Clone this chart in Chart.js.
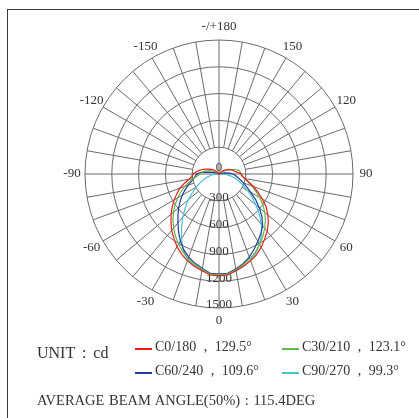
<!DOCTYPE html>
<html>
<head>
<meta charset="utf-8">
<script src="https://cdn.jsdelivr.net/npm/chart.js@4"></script>
<style>
  body { margin: 0; background: #fff; }
  #wrap { position: relative; width: 419px; height: 418px; overflow: hidden; font-family: "Liberation Serif", serif; color: #333; }
  #chartBox { position: absolute; left: 0; top: 0; width: 419px; height: 418px; }
  .frame { position: absolute; left: 7px; top: 9px; width: 500px; height: 500px; border-left: 1.5px solid #3a3a3a; border-top: 1.5px solid #3a3a3a; }
  .txt { position: absolute; white-space: pre; }
  .sw { position: absolute; width: 17px; height: 1.5px; }
</style>
</head>
<body>
<div id="wrap">
  <div class="frame"></div>
  <div id="chartBox"><canvas id="myChart"></canvas></div>
  <div id="bottom"></div>
</div>
<script>
const gamma = [0, 5, 10, 15, 20, 25, 30, 35, 40, 45, 50, 55, 60, 65, 70, 75, 80, 85, 90,
  95, 100, 105, 110, 115, 120, 125, 130, 135, 140, 145, 150, 155, 160, 165, 170, 175, 180];

// intensity (cd) per gamma angle, right half / left half of each C plane pair
const c0 = [1140, 1135, 1100, 1065, 1035, 995, 945, 890, 840, 780, 715, 645, 560, 480, 410, 345, 295, 260, 250,
  210, 175, 160, 140, 120, 95, 75, 55, 35, 20, 10, 5, 0, 0, 0, 0, 0, 0];
const c180 = [1140, 1135, 1100, 1070, 1035, 990, 940, 880, 825, 760, 700, 640, 580, 520, 470, 400, 340, 305, 290,
  260, 225, 195, 160, 130, 105, 85, 65, 45, 28, 15, 5, 0, 0, 0, 0, 0, 0];
const c30 = [1130, 1125, 1090, 1050, 1010, 965, 910, 855, 795, 735, 670, 600, 525, 455, 390, 335, 290, 260, 245,
  240, 230, 190, 140, 100, 70, 45, 25, 12, 5, 0, 0, 0, 0, 0, 0, 0, 0];
const c210 = [1130, 1125, 1085, 1050, 1010, 960, 905, 850, 790, 730, 665, 600, 535, 470, 410, 350, 290, 245, 215,
  195, 170, 140, 110, 80, 55, 35, 20, 10, 3, 0, 0, 0, 0, 0, 0, 0, 0];
const c60 = [1120, 1115, 1080, 1040, 990, 930, 870, 815, 760, 680, 590, 500, 410, 345, 290, 245, 210, 185, 160,
  120, 70, 40, 20, 10, 0, 0, 0, 0, 0, 0, 0, 0, 0, 0, 0, 0, 0];
const c240 = [1120, 1115, 1075, 1035, 990, 935, 865, 790, 715, 650, 590, 530, 475, 420, 370, 320, 285, 265, 250,
  200, 120, 70, 35, 15, 0, 0, 0, 0, 0, 0, 0, 0, 0, 0, 0, 0, 0];
const c90 = [1120, 1118, 1100, 1070, 1030, 975, 905, 830, 740, 640, 540, 450, 370, 300, 240, 185, 135, 90, 50,
  25, 10, 0, 0, 0, 0, 0, 0, 0, 0, 0, 0, 0, 0, 0, 0, 0, 0];
const c270 = [1120, 1118, 1100, 1065, 1020, 945, 840, 730, 630, 535, 450, 365, 295, 235, 180, 135, 95, 60, 35,
  15, 5, 0, 0, 0, 0, 0, 0, 0, 0, 0, 0, 0, 0, 0, 0, 0, 0];

const planeNames = ["C0/180", "C30/210", "C60/240", "C90/270"];
const beamAngles = ["129.5°", "123.1°", "109.6°", "99.3°"];
const planeColors = ["#ee1c1c", "#62b844", "#1f3c9c", "#46c4d6"];
const angleTicks = [0, 30, 60, 90, 120, 150, 180, -30, -60, -90, -120, -150];
const intensityTicks = [0, 300, 600, 900, 1200, 1500];

const gridColor = "#6a6a6a";

// dial order clockwise from the top: 180 .. 5 on the C0 side, then 0 .. -175 on the C180 side
const dial = [];
for (let i = gamma.length - 1; i > 0; i--) dial.push(gamma[i]);
for (let i = 0; i < gamma.length - 1; i++) dial.push(-gamma[i]);

function plane(right, left) {
  return dial.map((a) => (a > 0 ? right[gamma.indexOf(a)] : left[gamma.indexOf(-a)]));
}

const series = [plane(c0, c180), plane(c30, c210), plane(c60, c240), plane(c90, c270)];

const polarGrid = {
  id: "polarGrid",
  beforeDatasetsDraw(chart) {
    const r = chart.scales.r;
    const ctx = chart.ctx;
    const inner = r.getDistanceFromCenterForValue(300);
    const outer = r.getDistanceFromCenterForValue(1500);
    ctx.save();
    ctx.strokeStyle = gridColor;
    ctx.lineWidth = 1;
    dial.forEach((a, i) => {
      if (a % 10 !== 0) return;
      const from = r.getPointPosition(i, a % 90 === 0 ? 0 : inner);
      const to = r.getPointPosition(i, outer);
      ctx.beginPath();
      ctx.moveTo(from.x, from.y);
      ctx.lineTo(to.x, to.y);
      ctx.stroke();
    });

    ctx.fillStyle = "#333";
    ctx.font = '13px "Liberation Serif"';
    ctx.textAlign = "center";
    ctx.textBaseline = "middle";
    dial.forEach((a, i) => {
      if (!angleTicks.includes(a)) return;
      const p = r.getPointPosition(i, outer + 13);
      ctx.fillText(a === 180 ? "-/+180" : String(a), p.x, p.y);
    });
    intensityTicks.forEach((v) => {
      const d = r.getDistanceFromCenterForValue(v);
      ctx.fillText(String(v), r.xCenter, r.yCenter + d - (v === 0 ? 6 : 3));
    });
    ctx.restore();
  }
};

const myCanvas = document.getElementById("myChart");

new Chart(myCanvas, {
  type: "radar",
  data: {
    labels: dial.map(String),
    datasets: series.map((data, k) => ({
      label: planeNames[k],
      data: data,
      borderColor: planeColors[k],
      borderWidth: 1.2,
      pointRadius: 0,
      fill: false,
      tension: 0
    }))
  },
  options: {
    responsive: true,
    maintainAspectRatio: false,
    animation: false,
    layout: { padding: { left: 85, top: 40, right: 66, bottom: 110 } },
    plugins: { legend: { display: false }, tooltip: { enabled: false } },
    scales: {
      r: {
        min: 0,
        max: 1500,
        ticks: { stepSize: 300, display: false },
        grid: { circular: true, color: gridColor, lineWidth: 1 },
        angleLines: { display: false },
        pointLabels: { display: false }
      }
    }
  },
  plugins: [polarGrid]
});

// text block under the dial
const bottom = document.getElementById("bottom");
function addText(str, left, centerY, size, extra) {
  const d = document.createElement("div");
  d.className = "txt";
  d.textContent = str;
  d.style.left = left + "px";
  d.style.top = (centerY - size / 2) + "px";
  d.style.fontSize = size + "px";
  d.style.lineHeight = size + "px";
  if (extra) d.style.wordSpacing = extra + "px";
  bottom.appendChild(d);
}
addText("UNIT : cd", 37, 353, 16, 3);
const slots = [[135, 347], [282, 347], [135, 371], [282, 371]];
planeNames.forEach((name, k) => {
  const [x, y] = slots[k];
  const s = document.createElement("div");
  s.className = "sw";
  s.style.left = x + "px";
  s.style.top = (y + 1) + "px";
  s.style.background = planeColors[k];
  bottom.appendChild(s);
  addText(name + " , " + beamAngles[k], x + 20, y, 14, 4);
});
addText("AVERAGE BEAM ANGLE(50%) : 115.4DEG", 37, 400, 14.5, 1);
</script>
</body>
</html>
